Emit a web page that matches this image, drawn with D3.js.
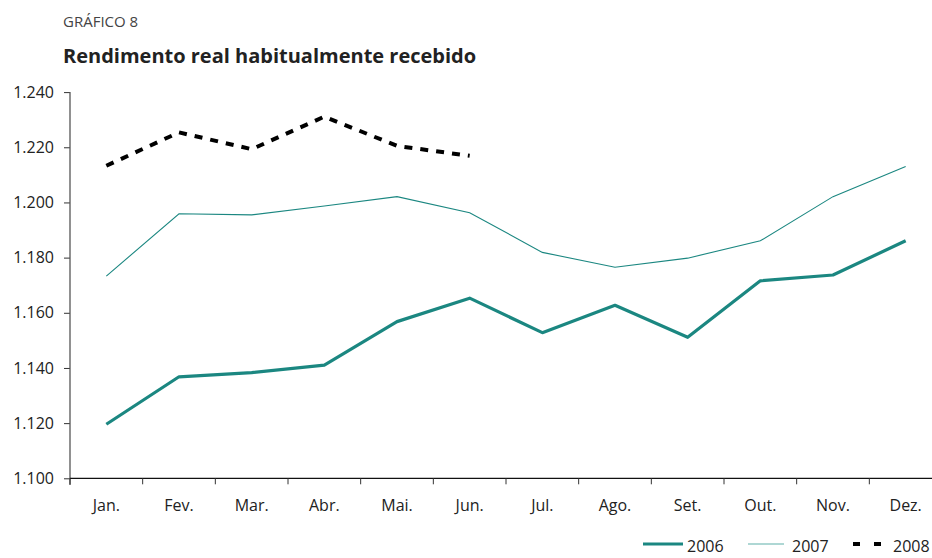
<!DOCTYPE html>
<html><head><meta charset="utf-8">
<script src="https://cdn.jsdelivr.net/npm/d3@7"></script>
<style>
body{margin:0;background:#fff;}
svg{font-family:"Open Sans",sans-serif;}
</style></head>
<body><svg id="c" width="932" height="558"></svg>
<script>
const months = ["Jan.","Fev.","Mar.","Abr.","Mai.","Jun.","Jul.","Ago.","Set.","Out.","Nov.","Dez."];
const s2006 = [1.1196,1.1368,1.1383,1.1410,1.1568,1.1653,1.1528,1.1627,1.1511,1.1716,1.1737,1.1861];
const s2007 = [1.1733,1.1959,1.1955,1.1987,1.2021,1.1963,1.1819,1.1765,1.1798,1.1861,1.2021,1.2130];
const s2008 = [1.2133,1.2254,1.2193,1.2311,1.2205,1.2169];
const yTicks = [1.100,1.120,1.140,1.160,1.180,1.200,1.220,1.240];
const yTickLabels = ["1.100","1.120","1.140","1.160","1.180","1.200","1.220","1.240"];

const svg = d3.select("#c");
const teal = "#1b8781";
const x = d3.scaleBand().domain(months).range([70, 942]).padding(0);
const y = d3.scaleLinear().domain([1.100, 1.240]).range([478.3, 92.1]);

svg.append("text").attr("x",63).attr("y",27).attr("font-size",15).attr("fill","#444")
  .attr("font-weight",400).text("GRÁFICO 8");
svg.append("text").attr("x",63).attr("y",63).attr("font-size",20).attr("fill","#222")
  .attr("font-weight",700).text("Rendimento real habitualmente recebido");

// y axis
const yAxis = d3.axisLeft(y).tickValues(yTicks).tickFormat((d,i)=>yTickLabels[i]).tickSize(6).tickPadding(10);
const gy = svg.append("g").attr("transform","translate(70,0)").call(yAxis);
gy.select(".domain").remove();
gy.append("line").attr("x1",0).attr("x2",0).attr("y1",y(1.240)).attr("y2",485).attr("stroke","#555").attr("stroke-width",1.3);
gy.selectAll(".tick line").attr("stroke","#333");
gy.selectAll(".tick text").attr("font-size",16).attr("fill","#222").attr("font-family","Open Sans");

// x axis
const gx = svg.append("g").attr("transform",`translate(0,${y(1.100)})`);
gx.append("line").attr("x1",70).attr("x2",932).attr("y1",0).attr("y2",0).attr("stroke","#111").attr("stroke-width",1.2);
gx.selectAll("line.t").data(months).enter().append("line").attr("class","t")
  .attr("x1",d=>x(d)).attr("x2",d=>x(d)).attr("y1",0).attr("y2",6).attr("stroke","#333");
gx.selectAll("text").data(months).enter().append("text")
  .attr("x",d=>x(d)+x.bandwidth()/2).attr("y",32.5).attr("text-anchor","middle")
  .attr("font-size",16).attr("fill","#222").text(d=>d);

const line = d3.line().x((d,i)=>x(months[i])+x.bandwidth()/2).y(d=>y(d));
svg.append("path").datum(s2007).attr("d",line).attr("fill","none").attr("stroke",teal).attr("stroke-width",1.1);
svg.append("path").datum(s2006).attr("d",line).attr("fill","none").attr("stroke",teal).attr("stroke-width",3.2).attr("stroke-linejoin","round");
svg.append("path").datum(s2008).attr("d",line).attr("fill","none").attr("stroke","#000").attr("stroke-width",4).attr("stroke-dasharray","8,8");

// legend
const legend = [
  {name:"2006", x1:643, x2:683, tx:687, stroke:teal, w:3.2, dash:null},
  {name:"2007", x1:748, x2:784, tx:792, stroke:"#5fb0aa", w:1.2, dash:null},
  {name:"2008", x1:853, x2:881, tx:893, stroke:"#000", w:4, dash:"7,14"}
];
const lg = svg.append("g");
legend.forEach(l=>{
  lg.append("line").attr("x1",l.x1).attr("x2",l.x2).attr("y1",544).attr("y2",544)
    .attr("stroke",l.stroke).attr("stroke-width",l.w).attr("stroke-dasharray",l.dash);
  lg.append("text").attr("x",l.tx).attr("y",552).attr("font-size",16).attr("fill","#222").text(l.name);
});
</script></body></html>
